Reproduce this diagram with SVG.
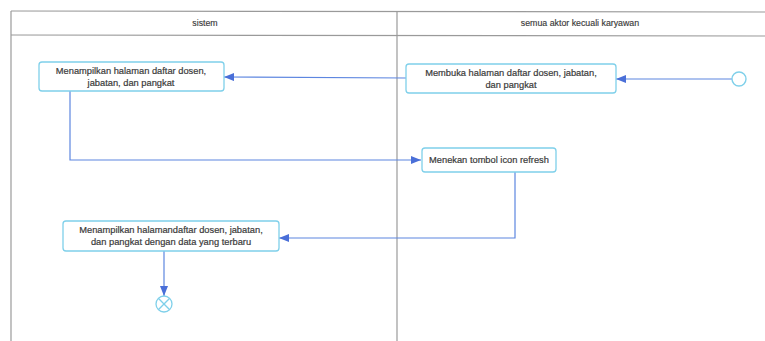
<svg xmlns="http://www.w3.org/2000/svg" width="765" height="341" viewBox="0 0 765 341">
<style>
.frame{fill:none;stroke:#9a9a9a;stroke-width:1.2}
.node{fill:#ffffff;stroke:#7fd0ea;stroke-width:1.3}
.t{font-family:"Liberation Sans",Arial,sans-serif;font-size:9.3px;fill:#3a3a3a;stroke:#3a3a3a;stroke-width:0.2;text-anchor:middle}
.h{font-family:"Liberation Sans",Arial,sans-serif;font-size:8.8px;fill:#3a3a3a;stroke:#3a3a3a;stroke-width:0.15;text-anchor:middle}
.conn{fill:none;stroke:#5d86e0;stroke-width:1.2}
</style>
<defs>
<marker id="arr" viewBox="0 0 10 8" refX="10" refY="4" markerWidth="10" markerHeight="8" markerUnits="userSpaceOnUse" orient="auto">
<path d="M0,0 L10,4 L0,8 Z" fill="#4a6fd8"/>
</marker>
</defs>
<rect width="765" height="341" fill="#ffffff"/>
<g id="swimlanes">
<line class="frame" x1="11" y1="11" x2="765" y2="12"/>
<line class="frame" x1="11" y1="35" x2="765" y2="36"/>
<line class="frame" x1="11" y1="11" x2="11" y2="341"/>
<line class="frame" x1="397" y1="11" x2="397" y2="341"/>
<text class="h" x="205" y="26">sistem</text>
<text class="h" x="580" y="26">semua aktor kecuali karyawan</text>
</g>
<g id="connectors">
<line class="conn" x1="732" y1="79" x2="616" y2="79" marker-end="url(#arr)"/>
<line class="conn" x1="406" y1="78" x2="224" y2="77" marker-end="url(#arr)"/>
<polyline class="conn" points="70,91 70,160 421,160" marker-end="url(#arr)"/>
<polyline class="conn" points="515,172 515,238 279,238" marker-end="url(#arr)"/>
<line class="conn" x1="164" y1="251" x2="164" y2="296" marker-end="url(#arr)"/>
</g>
<g id="start">
<circle cx="739" cy="79" r="7" fill="#ffffff" stroke="#7fd0ea" stroke-width="1.4"/>
</g>
<g id="node1">
<rect class="node" x="39" y="62" width="185" height="29" rx="3"/>
<text class="t" x="131" y="74">Menampilkan halaman daftar dosen,</text>
<text class="t" x="131" y="85.5">jabatan, dan pangkat</text>
</g>
<g id="node2">
<rect class="node" x="406" y="64" width="210" height="29" rx="3"/>
<text class="t" x="511" y="76">Membuka halaman daftar dosen, jabatan,</text>
<text class="t" x="511" y="87.5">dan pangkat</text>
</g>
<g id="node3">
<rect class="node" x="422" y="148" width="134" height="24" rx="3"/>
<text class="t" x="489" y="163">Menekan tombol icon refresh</text>
</g>
<g id="node4">
<rect class="node" x="63" y="221" width="216" height="30" rx="3"/>
<text class="t" x="171" y="233">Menampilkan halamandaftar dosen, jabatan,</text>
<text class="t" x="171" y="245">dan pangkat dengan data yang terbaru</text>
</g>
<g id="end">
<circle cx="164" cy="304" r="8" fill="#ffffff" stroke="#7fd0ea" stroke-width="1.3"/>
<line x1="158.3" y1="298.3" x2="169.7" y2="309.7" stroke="#7fd0ea" stroke-width="1.3"/>
<line x1="169.7" y1="298.3" x2="158.3" y2="309.7" stroke="#7fd0ea" stroke-width="1.3"/>
</g>
</svg>
